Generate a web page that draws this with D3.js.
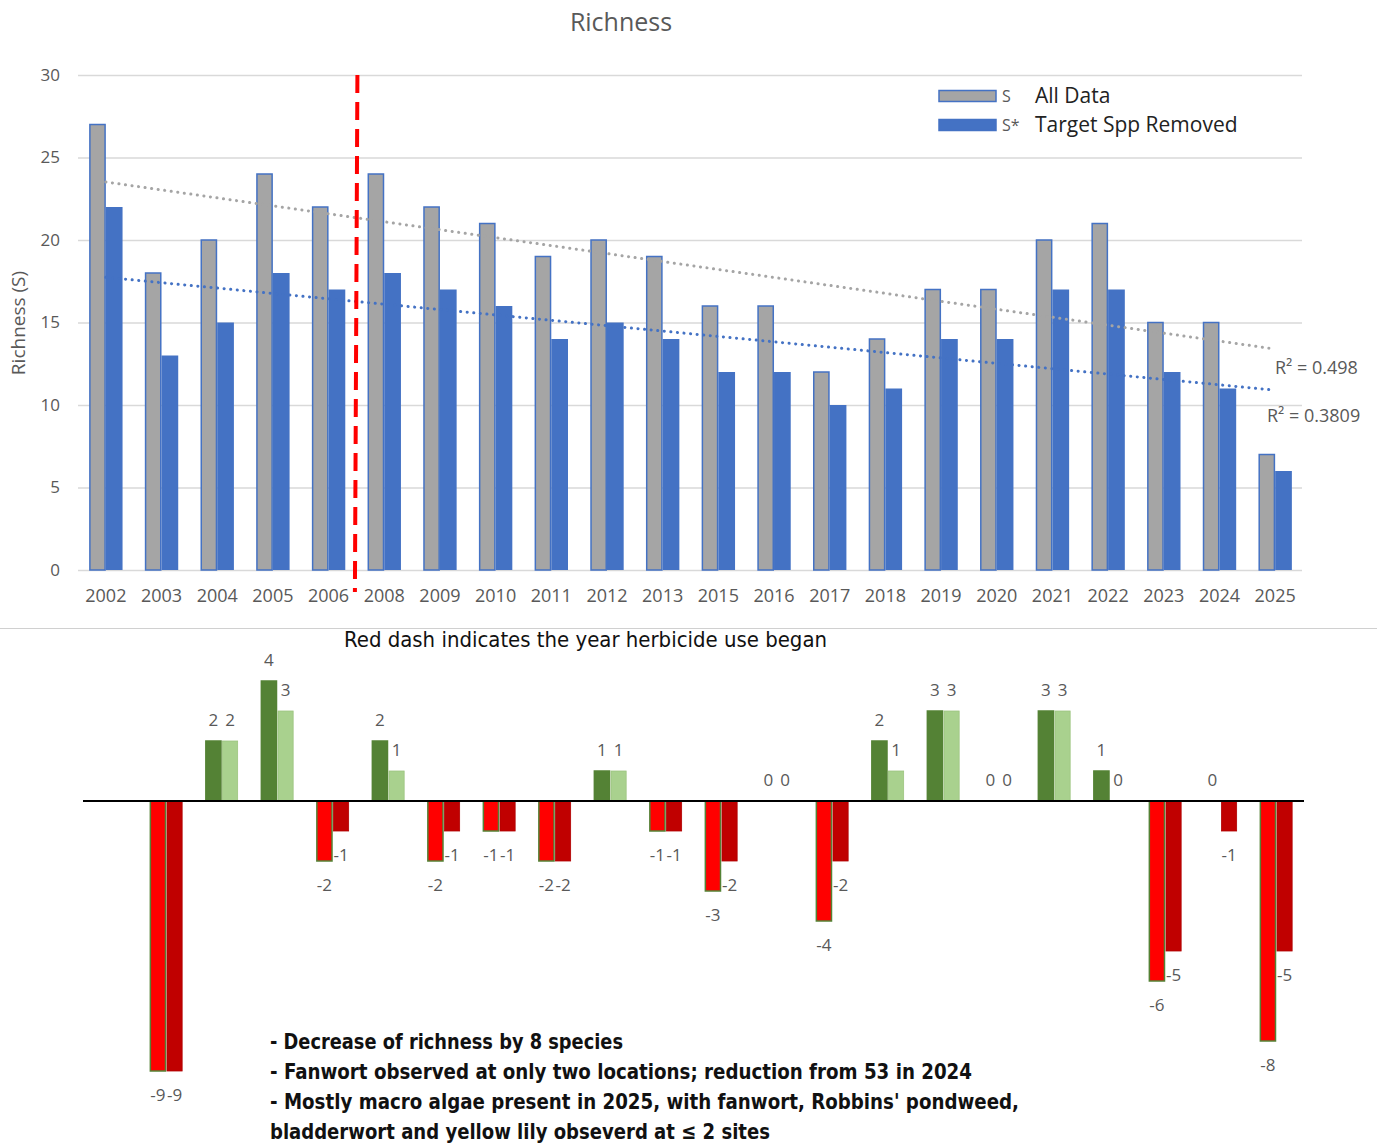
<!DOCTYPE html>
<html>
<head>
<meta charset="utf-8">
<script src="https://cdn.jsdelivr.net/npm/d3@7"></script>
<style>
  body { margin: 0; background: #fff; }
  svg { display: block; }
</style>
</head>
<body>
<svg id="chart" width="1377" height="1144"></svg>
<script>
// richness per survey year (2007 not surveyed)
const years = ['2002', '2003', '2004', '2005', '2006', '2008', '2009', '2010', '2011', '2012', '2013',
  '2015', '2016', '2017', '2018', '2019', '2020', '2021', '2022', '2023', '2024', '2025'];
const richnessAll = [27, 18, 20, 24, 22, 24, 22, 21, 19, 20, 19, 16, 16, 12, 14, 17, 17, 20, 21, 15, 15, 7];
const richnessRemoved = [22, 13, 15, 18, 17, 18, 17, 16, 14, 15, 14, 12, 12, 10, 11, 14, 14, 17, 17, 12, 11, 6];

// change from previous survey (2003 onwards)
const changeAll = [-9, 2, 4, -2, 2, -2, -1, -2, 1, -1, -3, 0, -4, 2, 3, 0, 3, 1, -6, 0, -8];
const changeRemoved = [-9, 2, 3, -1, 1, -1, -1, -2, 1, -1, -2, 0, -2, 1, 3, 0, 3, 0, -5, -1, -5];

const yTicks = [0, 5, 10, 15, 20, 25, 30];
const seriesNames = ['All Data', 'Target Spp Removed'];
const seriesKeys = ['S', 'S*'];
const r2Labels = ['R² = 0.498', 'R² = 0.3809'];
const herbicideYear = '2008';
const notes = [
  '- Decrease of richness by 8 species',
  '- Fanwort observed at only two locations; reduction from 53 in 2024',
  '- Mostly macro algae present in 2025, with fanwort, Robbins\' pondweed,',
  'bladderwort and yellow lily obseverd at \u2264 2 sites',
];

const font = '"Open Sans", "Noto Sans", sans-serif';
const narrow = '"Liberation Sans Narrow", "DejaVu Sans Condensed", "Noto Sans", sans-serif';
const grey = '#595959';
const colors = {
  all: '#A5A5A5',
  removed: '#4472C4',
  upAll: '#548235',
  upRemoved: '#A9D18E',
  downAll: '#FF0000',
  downRemoved: '#C00000',
};

const svg = d3.select('#chart');

// ---------- top chart ----------
const x = d3.scaleBand().domain(years).range([78, 1303]).paddingInner(0.4).paddingOuter(0.2);
const xs = d3.scaleBand().domain([0, 1]).range([0, x.bandwidth()]);
const y = d3.scaleLinear().domain([0, 30]).range([570, 75]);

svg.append('text')
    .attr('x', 621).attr('y', 22).attr('dy', '0.35em')
    .attr('text-anchor', 'middle')
    .attr('font-family', font).attr('font-size', 25).attr('fill', grey)
    .text('Richness');

const yAxis = svg.append('g')
    .attr('transform', 'translate(78,0)')
    .call(d3.axisLeft(y).tickValues(yTicks).tickSize(-(1302 - 78)).tickPadding(18));
yAxis.select('.domain').remove();
yAxis.selectAll('line').attr('stroke', '#D9D9D9').attr('stroke-width', 1.5);
yAxis.selectAll('text').attr('font-family', font).attr('font-size', 17).attr('fill', grey);

svg.append('text')
    .attr('transform', 'translate(18,323) rotate(-90)')
    .attr('dy', '0.35em')
    .attr('text-anchor', 'middle')
    .attr('font-family', font).attr('font-size', 19).attr('fill', grey)
    .text('Richness (S)');

const xAxis = svg.append('g')
    .attr('transform', 'translate(0,570)')
    .call(d3.axisBottom(x).tickSize(0).tickPadding(19));
xAxis.select('.domain').remove();
xAxis.selectAll('text').attr('font-family', font).attr('font-size', 18).attr('fill', grey);

const bars = svg.append('g');
bars.selectAll('rect.all')
    .data(richnessAll)
    .join('rect')
    .attr('class', 'all')
    .attr('x', (d, i) => x(years[i]) + xs(0) + 0.75)
    .attr('y', (d) => y(d))
    .attr('width', xs.bandwidth() - 1.5)
    .attr('height', (d) => y(0) - y(d))
    .attr('fill', colors.all)
    .attr('stroke', colors.removed)
    .attr('stroke-width', 1.5);
bars.selectAll('rect.removed')
    .data(richnessRemoved)
    .join('rect')
    .attr('class', 'removed')
    .attr('x', (d, i) => x(years[i]) + xs(1))
    .attr('y', (d) => y(d))
    .attr('width', xs.bandwidth())
    .attr('height', (d) => y(0) - y(d))
    .attr('fill', colors.removed);

// linear trendlines over category index
const fit = (vals) => {
  const n = vals.length;
  const mx = d3.mean(vals, (d, i) => i);
  const my = d3.mean(vals);
  const sxy = d3.sum(vals, (d, i) => (i - mx) * (d - my));
  const sxx = d3.sum(vals, (d, i) => (i - mx) * (i - mx));
  const b = sxy / sxx;
  return [my - b * mx, my + b * (n - 1 - mx)];
};
const xc = (yr) => x(yr) + x.bandwidth() / 2;
[[richnessAll, colors.all], [richnessRemoved, colors.removed]].forEach(([vals, c]) => {
  const [y0, y1] = fit(vals);
  svg.append('line')
      .attr('x1', xc(years[0])).attr('y1', y(y0))
      .attr('x2', xc(years[years.length - 1])).attr('y2', y(y1))
      .attr('stroke', c).attr('stroke-width', 3)
      .attr('stroke-linecap', 'round')
      .attr('stroke-dasharray', '0.1 6.5');
});

svg.append('text')
    .attr('x', 1275).attr('y', 368).attr('dy', '0.35em')
    .attr('font-family', font).attr('font-size', 18).attr('fill', grey)
    .text(r2Labels[0]);
svg.append('text')
    .attr('x', 1267).attr('y', 416).attr('dy', '0.35em')
    .attr('font-family', font).attr('font-size', 18).attr('fill', grey)
    .text(r2Labels[1]);

// herbicide marker between the last untreated and first treated survey
const prevYear = years[years.indexOf(herbicideYear) - 1];
const xMark = (xc(prevYear) + xc(herbicideYear)) / 2;
svg.append('line')
    .attr('x1', xMark + 1).attr('y1', 75)
    .attr('x2', xMark - 1.5).attr('y2', 592)
    .attr('stroke', '#FF0000').attr('stroke-width', 4)
    .attr('stroke-dasharray', '18 9');

// legend
const legend = svg.append('g').attr('transform', 'translate(939,0)');
[colors.all, colors.removed].forEach((c, i) => {
  const ly = 96 + i * 29;
  legend.append('rect')
      .attr('x', 0).attr('y', ly - 5.5).attr('width', 57).attr('height', 11)
      .attr('fill', c)
      .attr('stroke', colors.removed).attr('stroke-width', 1.5);
  legend.append('text')
      .attr('x', 63).attr('y', ly).attr('dy', '0.35em')
      .attr('font-family', font).attr('font-size', 16).attr('fill', grey)
      .text(seriesKeys[i]);
  legend.append('text')
      .attr('x', 96).attr('y', ly).attr('dy', '0.35em')
      .attr('font-family', font).attr('font-size', 21).attr('fill', '#222')
      .text(seriesNames[i]);
});

// separator
svg.append('line')
    .attr('x1', 0).attr('x2', 1377).attr('y1', 628.5).attr('y2', 628.5)
    .attr('stroke', '#D0D0D0').attr('stroke-width', 1);

svg.append('text')
    .attr('x', 344).attr('y', 640).attr('dy', '0.35em')
    .attr('font-family', narrow).attr('font-size', 21).attr('fill', '#111')
    .attr('textLength', 483).attr('lengthAdjust', 'spacingAndGlyphs')
    .text('Red dash indicates the year herbicide use began');

// ---------- bottom chart (change from previous survey) ----------
const x2 = d3.scaleBand().domain(years).range([83, 1304]).paddingInner(0.4).paddingOuter(0.2);
const xs2 = d3.scaleBand().domain([0, 1]).range([0, x2.bandwidth()]);
const y2 = d3.scaleLinear().domain([-10, 5]).range([1101, 651]);
const changeYears = years.slice(1);

const changeRows = changeYears.flatMap((yr, i) => [
  {yr, k: 0, v: changeAll[i]},
  {yr, k: 1, v: changeRemoved[i]},
]);

const fillFor = (d) => {
  if (d.k === 0) return d.v >= 0 ? colors.upAll : colors.downAll;
  return d.v >= 0 ? colors.upRemoved : colors.downRemoved;
};
const strokeFor = (d) => {
  if (d.k === 0) return colors.upAll;
  return d.v >= 0 ? '#9CC47F' : '#B00000';
};

svg.append('g')
    .selectAll('rect')
    .data(changeRows.filter((d) => d.v !== 0))
    .join('rect')
    .attr('x', (d) => x2(d.yr) + xs2(d.k) + 0.75)
    .attr('y', (d) => y2(Math.max(0, d.v)))
    .attr('width', xs2.bandwidth() - 1.5)
    .attr('height', (d) => Math.abs(y2(d.v) - y2(0)))
    .attr('fill', fillFor)
    .attr('stroke', strokeFor)
    .attr('stroke-width', (d) => d.k === 0 ? 1.5 : 0.8);

svg.append('line')
    .attr('x1', 83).attr('x2', 1304)
    .attr('y1', y2(0)).attr('y2', y2(0))
    .attr('stroke', '#000').attr('stroke-width', 2);

svg.append('g')
    .selectAll('text')
    .data(changeRows)
    .join('text')
    .attr('x', (d) => x2(d.yr) + xs2(d.k) + xs2.bandwidth() / 2)
    .attr('y', (d) => d.v >= 0 ? y2(d.v) - 21 : y2(d.v) + 24)
    .attr('dy', '0.35em')
    .attr('text-anchor', 'middle')
    .attr('font-family', font).attr('font-size', 17).attr('fill', grey)
    .text((d) => d.v);

// notes
const noteWidths = [353, 702, 749, 500];
svg.append('g')
    .selectAll('text')
    .data(notes)
    .join('text')
    .attr('x', 270)
    .attr('y', (d, i) => 1041 + i * 30)
    .attr('dy', '0.35em')
    .attr('font-family', narrow).attr('font-size', 22).attr('font-weight', 'bold')
    .attr('fill', '#111')
    .attr('textLength', (d, i) => noteWidths[i])
    .attr('lengthAdjust', 'spacingAndGlyphs')
    .text((d) => d);
</script>
</body>
</html>
